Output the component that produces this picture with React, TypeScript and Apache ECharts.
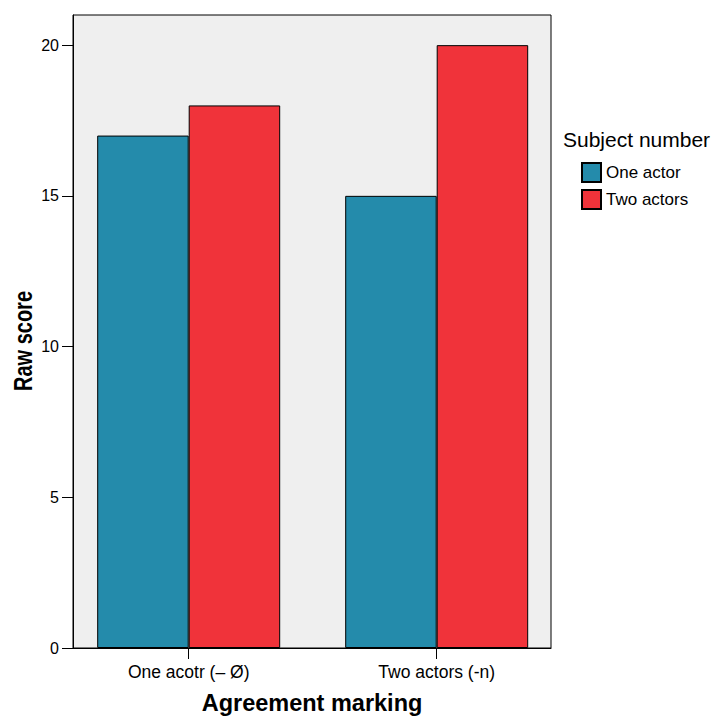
import React, { useEffect, useRef } from "react";
import * as echarts from "echarts";

const categories = ["One acotr (– Ø)", "Two actors (-n)"];
const seriesNames = ["One actor", "Two actors"];
const oneActor = [17, 15];
const twoActors = [18, 20];
const yTicks = [0, 5, 10, 15, 20];
const colors = ["#248BAB", "#F0333A"];

export default function App() {
  const ref = useRef<HTMLDivElement>(null);
  useEffect(() => {
    if (!ref.current) return;
    const chart = echarts.init(ref.current, null, { renderer: "svg", width: 721, height: 718 });
    const font = "'Liberation Sans', Arial, sans-serif";
    chart.setOption({
      animation: false,
      textStyle: { fontFamily: font },
      title: {
        text: "Subject number",
        left: 563,
        top: 129,
        padding: 0,
        textStyle: { fontFamily: font, fontSize: 21, fontWeight: "normal", color: "#000" },
      },
      legend: {
        orient: "vertical",
        left: 581,
        top: 162,
        padding: 0,
        itemWidth: 19,
        itemHeight: 19,
        itemGap: 6,
        icon: "rect",
        data: seriesNames,
        textStyle: { fontFamily: font, fontSize: 17, color: "#000" },
      },
      graphic: [
        {
          type: "text",
          x: 23,
          y: 341,
          rotation: Math.PI / 2,
          scaleY: 1.3,
          style: {
            text: "Raw score",
            font: `bold 20px ${font}`,
            fill: "#000",
            align: "center",
            verticalAlign: "middle",
          },
        },
      ],
      grid: {
        left: 73,
        top: 15,
        right: 170,
        bottom: 70,
        outerBoundsMode: "none",
        containLabel: false,
        show: true,
        backgroundColor: "#EFEFEF",
        borderColor: "#000",
        borderWidth: 1,
      },
      xAxis: {
        type: "value",
        min: -0.4665,
        max: 1.4609,
        name: "Agreement marking",
        nameLocation: "middle",
        nameGap: 43,
        nameTextStyle: { fontFamily: font, fontSize: 23.5, fontWeight: "bold", color: "#000" },
        splitLine: { show: false },
        axisLine: { show: true, onZero: false, lineStyle: { color: "#000", width: 1 } },
        axisTick: { show: true, customValues: [0, 1], length: 11, lineStyle: { color: "#000" } },
        axisLabel: {
          customValues: [0, 1],
          formatter: (v: number) => categories[Math.round(v)] ?? "",
          fontFamily: font,
          fontSize: 17.5,
          color: "#000",
          margin: 15,
        },
      },
      yAxis: {
        type: "value",
        min: 0,
        max: 21,
        splitLine: { show: false },
        axisLine: { show: true, onZero: false, lineStyle: { color: "#000", width: 1 } },
        axisTick: { show: true, customValues: yTicks, length: 11, lineStyle: { color: "#000" } },
        axisLabel: {
          customValues: yTicks,
          fontFamily: font,
          fontSize: 16,
          color: "#000",
          margin: 14,
        },
      },
      series: [
        {
          name: seriesNames[0],
          type: "bar",
          barWidth: 91.5,
          barGap: "0%",
          data: oneActor.map((v, i) => [i, v]),
          itemStyle: { color: colors[0], borderColor: "#000", borderWidth: 1 },
        },
        {
          name: seriesNames[1],
          type: "bar",
          barWidth: 91.5,
          barGap: "0%",
          data: twoActors.map((v, i) => [i, v]),
          itemStyle: { color: colors[1], borderColor: "#000", borderWidth: 1 },
        },
      ],
    });
    return () => chart.dispose();
  }, []);
  return <div ref={ref} style={{ width: 721, height: 718, position: "absolute", left: 0, top: 0 }} />;
}
